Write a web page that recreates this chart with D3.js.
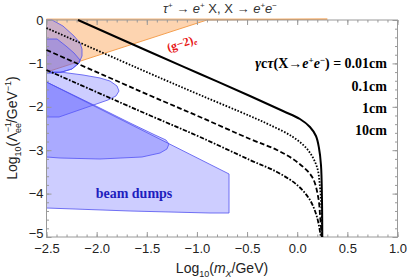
<!DOCTYPE html>
<html>
<head>
<meta charset="utf-8">
<script src="https://cdn.jsdelivr.net/npm/d3@7"></script>
<style>
  body { margin: 0; background: #fff; }
  svg { display: block; }
  .tick text { font-family: "Liberation Sans", Arial, sans-serif; font-size: 13px; fill: #222; }
</style>
</head>
<body>
<svg id="chart" width="407" height="279"></svg>
<script>
// decay length curves: [log10 mX, log10 Lambda^-1]
const ctau001 = [[-2.186,0],[-1.468,-0.737],[-0.969,-1.244],[-0.471,-1.751],[-0.142,-2.097],[0.027,-2.281],
  [0.127,-2.465],[0.187,-2.673],[0.217,-2.949],[0.237,-3.341],[0.247,-4.147],[0.250,-5]];
const ctau01 = [[-2.5,-0.184],[-1.468,-1.233],[-0.969,-1.728],[-0.471,-2.212],[-0.272,-2.419],[-0.042,-2.696],
  [0.107,-2.995],[0.197,-3.387],[0.227,-3.848],[0.242,-4.378],[0.249,-5]];
const ctau1 = [[-2.5,-0.691],[-1.468,-1.74],[-0.969,-2.235],[-0.471,-2.742],[-0.202,-2.995],[-0.001,-3.272],
  [0.149,-3.618],[0.209,-4.078],[0.229,-4.539],[0.245,-5]];
const ctau10 = [[-2.5,-1.152],[-1.468,-2.2],[-0.969,-2.696],[-0.471,-3.226],[-0.202,-3.502],[-0.001,-3.802],
  [0.127,-4.147],[0.197,-4.539],[0.236,-5]];

// excluded regions
const gm2Region = [[-2.5,0.02],[0.3,0.02],[-0.9,0],[-2.5,-1.2]];
const dump1 = [[-2.5,0],[-2.445,0],[-2.336,-0.138],[-2.226,-0.369],[-2.166,-0.53],[-2.146,-0.668],[-2.146,-0.829],
  [-2.176,-0.991],[-2.246,-1.129],[-2.365,-1.21],[-2.5,-1.221]];
const dump2 = [[-2.5,-0.438],[-2.395,-0.438],[-2.306,-0.599],[-2.226,-0.76],[-2.166,-0.922],[-2.176,-0.991],
  [-2.246,-1.129],[-2.365,-1.21],[-2.5,-1.221]];
const dump3 = [[-2.5,-1.198],[-2.365,-1.198],[-2.136,-1.267],[-1.967,-1.336],[-1.867,-1.406],[-1.797,-1.521],
  [-1.777,-1.636],[-1.807,-1.751],[-1.887,-1.843],[-2.375,-2.235],[-2.5,-2.235]];
const dump4 = [[-2.5,-1.429],[-1.967,-2.028],[-1.667,-2.373],[-1.418,-2.65],[-1.309,-2.765],[-1.279,-2.857],
  [-1.299,-2.972],[-1.368,-3.065],[-1.548,-3.157],[-1.967,-3.203],[-2.365,-3.18],[-2.5,-3.157]];
const dump5 = [[-2.5,-1.429],[-0.68,-3.548],[-0.68,-4.447],[-0.87,-4.447],[-1.667,-4.401],[-2.5,-4.332]];

const xTicks = [-2.5,-2.0,-1.5,-1.0,-0.5,0.0,0.5,1.0];
const yTicks = [0,-1,-2,-3,-4,-5];
const legendLabels = ["0.1cm","1cm","10cm"];

let svg = d3.select('#chart');
let m = {left:46.5, right:397.5, top:20, bottom:237};

let x = d3.scaleLinear().domain([-2.5,1.0]).range([m.left,m.right]);
let y = d3.scaleLinear().domain([-5,0]).range([m.bottom,m.top]);

let poly = d3.line().x(d=>x(d[0])).y(d=>y(d[1]));
let smooth = d3.line().x(d=>x(d[0])).y(d=>y(d[1])).curve(d3.curveCatmullRom.alpha(0.5));

// regions
svg.append('path').attr('d', poly(gm2Region)+'Z')
  .attr('fill','rgb(250,160,80)').attr('fill-opacity',0.45)
  .attr('stroke','rgb(245,160,80)').attr('stroke-width',1);

let dumps = [dump1, dump2, dump3, dump4, dump5];
svg.append('g').selectAll('path').data(dumps).join('path')
  .attr('d', d=>poly(d)+'Z')
  .attr('fill','rgb(90,90,255)').attr('fill-opacity',0.3)
  .attr('stroke','rgb(80,80,240)').attr('stroke-width',0.8)
  .attr('stroke-linejoin','round');

// frame, ticks
svg.append('rect').attr('x',m.left).attr('y',m.top).attr('width',m.right-m.left).attr('height',m.bottom-m.top)
  .attr('fill','none').attr('stroke','#999').attr('stroke-width',1);

let xMinor = d3.range(-2.5,1.0001,0.1);
let yMinor = d3.range(-5,0.0001,0.2);

function drawAxis(axis, tr){
  let g = svg.append('g').attr('transform',tr).call(axis);
  g.select('.domain').remove();
  g.selectAll('line').attr('stroke','#999');
  return g;
}
drawAxis(d3.axisBottom(x).tickValues(xMinor).tickSize(-2.5).tickFormat(''), `translate(0,${m.bottom})`);
drawAxis(d3.axisTop(x).tickValues(xMinor).tickSize(-2.5).tickFormat(''), `translate(0,${m.top})`);
drawAxis(d3.axisLeft(y).tickValues(yMinor).tickSize(-2.5).tickFormat(''), `translate(${m.left},0)`);
drawAxis(d3.axisRight(y).tickValues(yMinor).tickSize(-2.5).tickFormat(''), `translate(${m.right},0)`);
drawAxis(d3.axisBottom(x).tickValues(xTicks).tickSize(-5).tickPadding(7).tickFormat(d3.format('.1f')), `translate(0,${m.bottom})`);
drawAxis(d3.axisTop(x).tickValues(xTicks).tickSize(-5).tickFormat(''), `translate(0,${m.top})`);
let yAx = drawAxis(d3.axisLeft(y).tickValues(yTicks).tickSize(-5).tickPadding(3).tickFormat(d3.format('d')), `translate(${m.left},0)`);
yAx.selectAll('text').filter(d=>d==-5).attr('dy','0.05em');
drawAxis(d3.axisRight(y).tickValues(yTicks).tickSize(-5).tickFormat(''), `translate(${m.right},0)`);

// decay length curves
let curves = [
  {data:ctau001, dash:null, w:2},
  {data:ctau01, dash:'1.6,1.6', w:1.8},
  {data:ctau1, dash:'5,2.5', w:1.8},
  {data:ctau10, dash:'4.5,1.6,1.6,1.6', w:1.8}
];
svg.append('g').attr('fill','none').selectAll('path').data(curves).join('path')
  .attr('d', d=>smooth(d.data))
  .attr('stroke','#000')
  .attr('stroke-width', d=>d.w)
  .attr('stroke-dasharray', d=>d.dash);

// labels
const sans = '"Liberation Sans", Arial, sans-serif';
const serif = '"Liberation Serif", "Times New Roman", serif';

let title = svg.append('text').attr('x',220).attr('y',13).attr('text-anchor','middle')
  .attr('font-family',sans).attr('font-size',13).attr('fill','#333');
title.append('tspan').attr('font-style','italic').text('τ');
title.append('tspan').attr('font-size',8).attr('dy',-5).text('+');
title.append('tspan').attr('dy',5).text(' → ');
title.append('tspan').attr('font-style','italic').text('e');
title.append('tspan').attr('font-size',8).attr('dy',-5).text('+');
title.append('tspan').attr('dy',5).text(' X, X → ');
title.append('tspan').attr('font-style','italic').text('e');
title.append('tspan').attr('font-size',8).attr('dy',-5).text('+');
title.append('tspan').attr('dy',5).attr('font-style','italic').text('e');
title.append('tspan').attr('font-size',8).attr('dy',-5).text('−');

let xt = svg.append('text').attr('x',222).attr('y',273).attr('text-anchor','middle')
  .attr('font-family',sans).attr('font-size',14).attr('fill','#222');
xt.append('tspan').text('Log');
xt.append('tspan').attr('font-size',9).attr('dy',4).text('10');
xt.append('tspan').attr('dy',-4).text('(');
xt.append('tspan').attr('font-style','italic').text('m');
xt.append('tspan').attr('font-style','italic').attr('font-size',9).attr('dy',4).text('X');
xt.append('tspan').attr('dy',-4).text('/GeV)');

let yt = svg.append('text').attr('transform','translate(17,128) rotate(-90)').attr('text-anchor','middle')
  .attr('font-family',sans).attr('font-size',14).attr('fill','#222');
yt.append('tspan').text('Log');
yt.append('tspan').attr('font-size',9).attr('dy',4).text('10');
yt.append('tspan').attr('dy',-4).text('(Λ');
yt.append('tspan').attr('font-size',9).attr('dy',-6).text('−1');
yt.append('tspan').attr('font-size',9).attr('dx',-11).attr('dy',10).text('ee');
yt.append('tspan').attr('dy',-4).text('/GeV');
yt.append('tspan').attr('font-size',9).attr('dy',-6).text('−1');
yt.append('tspan').attr('dy',6).text(')');

let leg = svg.append('text').attr('x',387).attr('y',68).attr('text-anchor','end')
  .attr('font-family',serif).attr('font-size',14).attr('font-weight','bold').attr('fill','#000');
leg.append('tspan').attr('font-style','italic').text('γ');
leg.append('tspan').text('c');
leg.append('tspan').attr('font-style','italic').text('τ');
leg.append('tspan').text('(X→');
leg.append('tspan').attr('font-style','italic').text('e');
leg.append('tspan').attr('font-size',9).attr('dy',-5).text('+');
leg.append('tspan').attr('dy',5).attr('font-style','italic').text('e');
leg.append('tspan').attr('font-size',9).attr('dy',-5).text('−');
leg.append('tspan').attr('dy',5).text(') = 0.01cm');

svg.append('g').selectAll('text').data(legendLabels).join('text')
  .attr('x',387).attr('y',(d,i)=>91+i*22).attr('text-anchor','end')
  .attr('font-family',serif).attr('font-size',14).attr('font-weight','bold')
  .text(d=>d);

svg.append('text').attr('x',134).attr('y',198).attr('text-anchor','middle')
  .attr('font-family',serif).attr('font-size',14).attr('font-weight','bold').attr('fill','rgb(30,30,190)')
  .text('beam dumps');

let gl = svg.append('text').attr('transform','translate(183,47) rotate(-18)').attr('text-anchor','middle')
  .attr('font-family',serif).attr('font-size',12).attr('font-weight','bold').attr('fill','rgb(230,20,20)');
gl.append('tspan').text('(g−2)');
gl.append('tspan').attr('font-size',8).attr('font-style','italic').attr('dy',2).text('e');
</script>
</body>
</html>
